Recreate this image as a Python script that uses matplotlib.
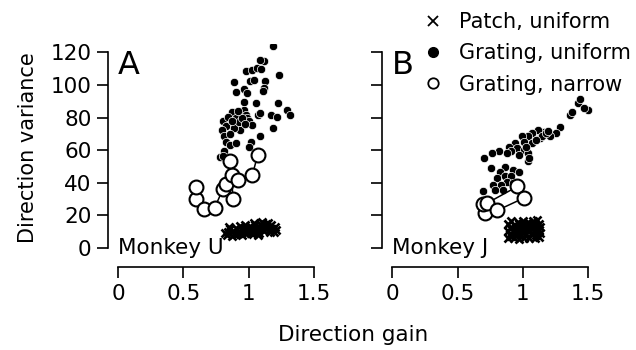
"""
Direction variance vs direction gain for two monkeys (panels A and B).
"""

import matplotlib.pyplot as plt
from matplotlib.lines import Line2D

plt.rcParams["font.family"] = ["DejaVu Sans"]

# ---- panel A (Monkey U) ----
a_patch_gain = [0.83, 0.87, 0.91, 0.95, 0.99, 1.03,
                0.84, 0.88, 0.92, 0.96, 1.00, 1.04, 1.08, 1.12, 1.16,
                0.86, 0.90, 0.94, 0.98, 1.02, 1.06, 1.10, 1.14, 1.18, 1.21,
                0.93, 0.97, 1.01, 1.05, 1.09, 1.13, 1.17, 1.20,
                1.04, 1.10, 1.15, 0.85, 0.89, 1.07, 1.19,
                0.82, 0.95, 1.00, 1.06, 1.11, 1.16, 0.97, 1.02, 1.08, 1.13]
a_patch_var = [8.0, 7.5, 8.5, 8.0, 9.0, 8.5,
               10.0, 10.5, 9.5, 10.0, 10.5, 10.0, 9.5, 10.5, 10.0,
               12.0, 12.5, 11.5, 12.0, 12.5, 12.0, 12.0, 12.5, 12.0, 11.0,
               13.5, 14.0, 13.5, 14.0, 14.5, 14.0, 14.0, 13.0,
               15.5, 16.0, 15.5, 13.0, 8.5, 8.0, 10.0,
               9.5, 11.0, 11.5, 11.0, 11.0, 12.0, 9.0, 9.5, 13.0, 15.0]

a_unif_gain = [1.189, 1.229, 1.114, 1.089, 0.980, 1.027, 1.064, 1.096, 0.890, 1.012,
               1.043, 1.127, 1.120, 0.965, 0.987, 0.903, 0.965, 1.058, 1.226, 0.871,
               0.934, 0.965, 0.980, 0.800, 0.840, 0.903, 0.949, 0.990, 1.002, 0.958,
               0.887, 0.825, 1.074, 1.089, 1.167, 1.214, 1.292, 1.316, 1.183, 1.027,
               0.794, 0.934, 0.809, 1.089, 0.825, 0.856, 0.903, 1.021, 1.002, 0.809,
               0.778, 0.803, 0.887, 0.925, 0.945, 0.870, 0.915, 0.975, 0.860, 1.110]
a_unif_var = [124.1, 106.1, 114.7, 115.3, 108.8, 109.2, 110.2, 109.8, 102.0, 102.4,
              103.1, 102.4, 98.0, 97.3, 94.9, 95.9, 89.8, 88.8, 88.8, 83.7,
              82.7, 84.7, 81.6, 77.6, 80.6, 79.6, 78.6, 79.6, 77.6, 75.5,
              74.9, 74.9, 81.6, 82.7, 81.6, 80.6, 84.7, 81.6, 73.5, 75.5,
              72.4, 72.4, 68.4, 68.8, 65.3, 63.3, 64.3, 65.3, 62.2, 59.2,
              56.1, 56.5, 73.5, 77.0, 80.0, 78.0, 84.0, 76.0, 70.0, 96.0]

a_narrow_gain = [0.598, 0.598, 0.654, 0.738, 0.803, 0.825, 0.878, 0.871, 0.856, 0.918, 1.027, 1.068]
a_narrow_var = [30.2, 37.3, 23.9, 24.5, 36.3, 39.2, 30.0, 44.9, 53.5, 41.8, 44.5, 56.9]

# ---- panel B (Monkey J) ----
b_patch_gain = [0.89, 0.93, 0.97, 1.01, 1.05, 1.09, 1.12,
                0.90, 0.94, 0.98, 1.02, 1.06, 1.10, 1.13,
                0.89, 0.93, 0.97, 1.01, 1.05, 1.09, 1.12,
                0.90, 0.94, 0.98, 1.02, 1.06, 1.10, 1.13,
                0.89, 0.93, 0.97, 1.01, 1.05, 1.09, 1.12,
                0.91, 0.96, 1.00, 1.04, 1.08, 1.11,
                0.91, 0.95, 0.99, 1.03, 1.07, 1.11]
b_patch_var = [6.0, 6.5, 5.5, 6.0, 6.5, 6.0, 7.0,
               8.5, 8.0, 8.5, 8.0, 8.5, 8.0, 9.0,
               10.5, 10.0, 10.5, 10.0, 10.5, 11.0, 11.0,
               12.5, 12.0, 12.5, 12.0, 12.5, 13.0, 13.0,
               14.5, 14.0, 14.5, 14.0, 15.0, 14.5, 15.0,
               16.5, 16.0, 16.5, 16.0, 16.5, 17.0,
               7.5, 9.5, 11.5, 13.5, 9.5, 12.0]

b_unif_gain = [1.500, 1.423, 1.439, 1.361, 1.377, 1.469, 1.284, 1.253, 1.206, 1.160,
               1.114, 1.067, 1.129, 1.036, 0.990, 1.005, 1.067, 0.943, 0.897, 0.959,
               1.005, 1.036, 0.974, 1.036, 0.912, 0.882, 0.820, 0.764, 0.702, 0.758,
               0.866, 0.928, 0.974, 0.826, 0.804, 0.866, 0.912, 0.882, 0.835, 0.773,
               0.789, 0.851, 0.696, 0.928, 1.145, 1.175, 1.098, 1.021, 1.191, 1.050]
b_unif_var = [84.7, 88.8, 91.2, 81.6, 83.7, 85.7, 74.5, 70.4, 68.4, 71.4,
              72.4, 70.4, 67.3, 68.4, 68.4, 65.3, 64.3, 64.3, 62.2, 61.2,
              60.2, 58.2, 57.1, 53.1, 59.2, 58.2, 59.2, 58.2, 55.1, 49.0,
              50.0, 48.0, 46.9, 46.9, 42.9, 43.9, 43.9, 40.8, 38.8, 38.8,
              35.7, 35.7, 34.7, 39.8, 68.8, 70.4, 66.3, 62.2, 72.0, 55.5]

b_narrow_gain = [0.711, 0.696, 0.727, 0.959, 1.005, 0.804]
b_narrow_var = [21.4, 27.1, 27.6, 37.8, 30.6, 23.1]

panels = [
    ("A", "Monkey U", a_patch_gain, a_patch_var, a_unif_gain, a_unif_var, a_narrow_gain, a_narrow_var),
    ("B", "Monkey J", b_patch_gain, b_patch_var, b_unif_gain, b_unif_var, b_narrow_gain, b_narrow_var),
]
x_ticks = [0, 0.5, 1, 1.5]
x_tick_labels = ["0", "0.5", "1", "1.5"]
y_ticks = [0, 20, 40, 60, 80, 100, 120]

FS = 15.5

fig = plt.figure(figsize=(6.36, 3.5), dpi=100)
axes = [fig.add_axes([0.170, 0.237, 0.334, 0.637]),
        fig.add_axes([0.601, 0.237, 0.334, 0.637])]

for ax, (letter, monkey, pg, pv, ug, uv, ng, nv) in zip(axes, panels):
    ax.plot(pg, pv, ls="none", marker="x", ms=5.5, mew=1.9, color="black", zorder=2)
    ax.plot(ug, uv, ls="none", marker="o", ms=6.0, mfc="black", mec="white", mew=0.5, zorder=3)
    ax.plot(ng, nv, color="black", lw=1.1, marker="o", ms=10, mfc="white", mec="black", mew=1.5, zorder=4)

    ax.set_xlim(-0.077, 1.55)
    ax.set_ylim(-11.6, 125)
    for side in ["top", "right"]:
        ax.spines[side].set_visible(False)
    ax.spines["left"].set_bounds(0, 120)
    ax.spines["bottom"].set_bounds(0, 1.5)
    ax.spines["left"].set_linewidth(1.2)
    ax.spines["bottom"].set_linewidth(1.2)
    ax.set_xticks(x_ticks)
    ax.set_xticklabels(x_tick_labels)
    ax.set_yticks(y_ticks)
    ax.tick_params(direction="out", length=8, width=1.2, labelsize=FS, pad=4)
    ax.text(0.0, 112, letter, fontsize=23, ha="left", va="center")
    ax.text(0.0, 0, monkey, fontsize=FS, ha="left", va="center")

axes[1].tick_params(axis="y", labelleft=False)

fig.text(0.044, 0.577, "Direction variance", rotation=90, fontsize=15, ha="center", va="center")
fig.text(0.555, 0.043, "Direction gain", fontsize=FS, ha="center", va="center")

handles = [
    Line2D([], [], ls="none", marker="x", ms=6.5, mew=1.3, color="black"),
    Line2D([], [], ls="none", marker="o", ms=7, mfc="black", mec="black"),
    Line2D([], [], ls="none", marker="o", ms=7.5, mfc="white", mec="black", mew=1.3),
]
labels = ["Patch, uniform", "Grating, uniform", "Grating, narrow"]
fig.legend(handles, labels, loc="upper left", bbox_to_anchor=(0.651, 0.99),
           frameon=False, fontsize=15, handlelength=1.0, handletextpad=0.76,
           labelspacing=0.55, borderaxespad=0)

fig.savefig("out.png", dpi=100)
